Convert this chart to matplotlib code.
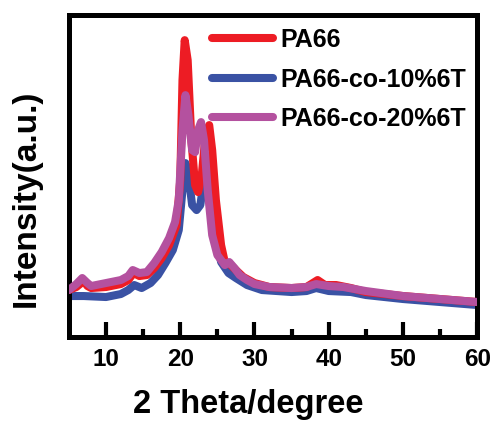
import matplotlib
matplotlib.use("Agg")
import matplotlib.pyplot as plt

plt.rcParams["font.family"] = ["Liberation Sans", "DejaVu Sans"]
plt.rcParams["font.weight"] = "bold"

# 2theta (deg) and intensity (a.u.)
theta_pa66 = [5, 6, 7, 7.5, 8, 10, 12, 13, 13.7, 14.5, 15.5, 16.5, 17.5, 18.5, 19.5, 20.0,
              20.3, 20.6, 21.0, 21.5, 22.0, 22.4, 22.9, 23.4, 23.9, 24.3, 24.8, 25.5, 26.0,
              26.8, 27.5, 28.5, 30, 32, 35, 37, 38.5, 39.5, 41, 43, 45, 50, 55, 60]
int_pa66 = [47, 50, 56, 51, 49, 50, 53, 57, 64, 61, 62, 69, 79, 92, 112, 157,
            257, 297, 277, 197, 152, 145, 162, 202, 212, 187, 137, 92, 75,
            72, 67, 60, 54, 50, 49, 50, 57, 52, 52, 49, 45, 41, 38, 35]

theta_10 = [5, 7, 10, 12, 13, 13.8, 14.8, 16, 17, 18, 19, 19.8, 20.3, 20.7, 21.1, 21.6,
            22.2, 22.7, 23.2, 23.6, 24.1, 24.7, 25.5, 26.5, 27.5, 29, 31, 35, 37, 38.3,
            40, 43, 45, 50, 55, 60]
int_10 = [41, 41, 40, 43, 47, 52, 49, 54, 62, 74, 87, 107, 147, 174, 162, 132,
          127, 132, 157, 172, 147, 107, 75, 64, 59, 52, 47, 45, 46, 49,
          46, 45, 42, 38, 35, 32]

theta_20 = [5, 6, 6.8, 7.5, 8, 10, 12, 13, 13.6, 14.5, 15.5, 16.5, 17.5, 18.5, 19.3, 19.8,
            20.3, 20.7, 21.1, 21.6, 22.0, 22.4, 22.8, 23.2, 23.7, 24.3, 25, 26, 26.6,
            27.3, 28, 29, 30, 32, 35, 37, 38.3, 40, 42, 45, 50, 55, 60]
int_20 = [47, 53, 59, 54, 51, 54, 57, 61, 67, 64, 65, 74, 85, 99, 115, 137,
          207, 242, 222, 187, 185, 207, 215, 197, 147, 102, 82, 72, 75,
          69, 62, 57, 53, 50, 49, 50, 53, 51, 50, 46, 41, 38, 35]

fig = plt.figure(figsize=(4.92, 4.21), dpi=100)
ax = fig.add_axes([0.140, 0.1995, 0.830, 0.7645])

lw = 5.8
ax.plot(theta_10, int_10, color="#3a52a4", lw=lw, solid_capstyle="round",
        solid_joinstyle="round", label="PA66-co-10%6T", zorder=2)
ax.plot(theta_pa66, int_pa66, color="#ed1c24", lw=lw, solid_capstyle="round",
        solid_joinstyle="round", label="PA66", zorder=3)
ax.plot(theta_20, int_20, color="#b4519f", lw=lw, solid_capstyle="round",
        solid_joinstyle="round", label="PA66-co-20%6T", zorder=4)

ax.set_xlim(5, 60)
ax.set_ylim(0, 322)
ax.set_xticks([10, 20, 30, 40, 50, 60])
ax.set_xticks([15, 25, 35, 45, 55], minor=True)
ax.set_yticks([])
ax.tick_params(axis="x", which="major", direction="in", length=11, width=3,
               pad=8, labelsize=17.5)
ax.tick_params(axis="x", which="minor", direction="in", length=6, width=3)
for t in ax.get_xticklabels():
    t.set_fontweight("bold")
for s in ax.spines.values():
    s.set_linewidth(3.6)

ax.set_xlabel("2 Theta/degree", fontsize=23.5, fontweight="bold")
ax.xaxis.set_label_coords(0.44, -0.163)
ax.set_ylabel("Intensity(a.u.)", fontsize=24, fontweight="bold")
ax.yaxis.set_label_coords(-0.066, 0.43)

handles, labels = ax.get_legend_handles_labels()
order = [1, 0, 2]
leg = ax.legend([handles[i] for i in order], [labels[i] for i in order],
                loc="upper left", bbox_to_anchor=(0.35, 0.96), frameon=False,
                borderpad=0, borderaxespad=0, handlelength=2.45,
                handletextpad=0.3, labelspacing=0.62,
                prop={"size": 18, "weight": "bold"})

fig.savefig("out.png", dpi=100)
